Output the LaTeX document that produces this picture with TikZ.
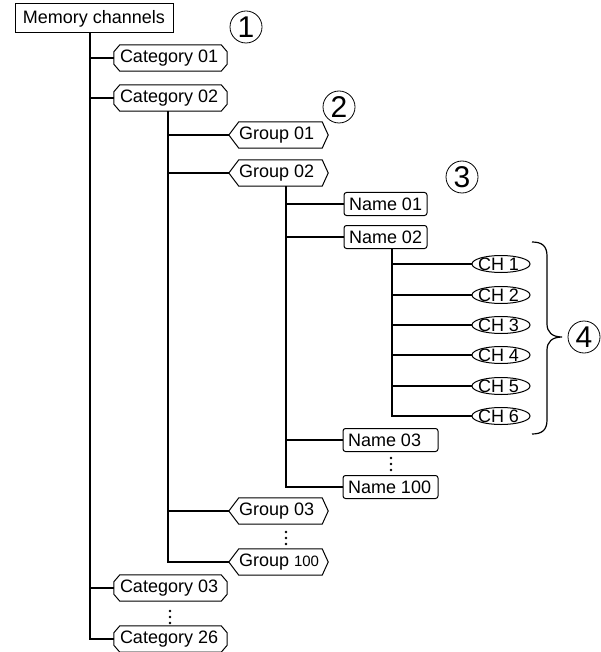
\documentclass[tikz,border=0pt]{standalone}
\usepackage{fontspec}
\setmainfont{Liberation Sans}
\usetikzlibrary{calc}
\newcommand\lbx[2]{\makebox[#1][l]{#2}}
\begin{document}
\begin{tikzpicture}[x=1pt,y=-1pt,
  every node/.style={font=\fontsize{18}{20}\selectfont, inner ysep=0pt},
  boxline/.style={line width=1pt},
  link/.style={line width=1.2pt},
  rootbox/.style={draw, boxline, minimum width=158pt, minimum height=29pt, inner xsep=0pt},
  catbox/.style={minimum height=26pt, inner xsep=6pt},
  grpbox/.style={minimum height=26pt, inner xsep=10pt},
  namebox/.style={draw, boxline, rounded corners=2.5pt, minimum height=23pt, inner xsep=5pt},
  chbox/.style={minimum height=17pt, inner xsep=6pt},
  circnum/.style={draw, circle, line width=0.8pt, minimum size=32pt, inner sep=0pt, font=\fontsize{30}{30}\selectfont},
  dotfill/.style={fill=black}
]
\useasboundingbox (0,0) rectangle (601,652);

% nodes
\node[rootbox] (root) at (94,18.5) {Memory channels};
\node[catbox] (cat01) at (170.5,58) {\lbx{101pt}{Category 01}};
\node[catbox] (cat02) at (170.5,98) {\lbx{101pt}{Category 02}};
\node[catbox] (cat03) at (170.5,588) {\lbx{101pt}{Category 03}};
\node[catbox] (cat26) at (170.5,639) {\lbx{101pt}{Category 26}};
\node[grpbox] (g01) at (278.5,135) {\lbx{79pt}{Group 01}};
\node[grpbox] (g02) at (278.5,173) {\lbx{79pt}{Group 02}};
\node[grpbox] (g03) at (278.5,511) {\lbx{79pt}{Group 03}};
\node[grpbox] (g100) at (278.5,562) {\lbx{79pt}{Group {\fontsize{15}{17}\selectfont 100}}};
\node[namebox] (n01) at (385.5,204) {\lbx{73pt}{Name 01}};
\node[namebox] (n02) at (385.5,237) {\lbx{73pt}{Name 02}};
\node[namebox] (n03) at (390.5,440) {\lbx{85pt}{Name 03}};
\node[namebox] (n100) at (390.5,487) {\lbx{85pt}{Name 100}};
\node[chbox] (ch1) at (501,264) {\lbx{46pt}{CH 1}};
\node[chbox] (ch2) at (501,295) {\lbx{46pt}{CH 2}};
\node[chbox] (ch3) at (501,325) {\lbx{46pt}{CH 3}};
\node[chbox] (ch4) at (501,355) {\lbx{46pt}{CH 4}};
\node[chbox] (ch5) at (501,386) {\lbx{46pt}{CH 5}};
\node[chbox] (ch6) at (501,416) {\lbx{46pt}{CH 6}};

% outlines of category boxes (chamfered)
\foreach \n in {cat01,cat02,cat03,cat26}{
  \draw[boxline] ([xshift=6pt]\n.north west) -- ([xshift=-6pt]\n.north east)
    -- ([yshift=-7pt]\n.north east) -- ([yshift=7pt]\n.south east)
    -- ([xshift=-6pt]\n.south east) -- ([xshift=6pt]\n.south west)
    -- ([yshift=7pt]\n.south west) -- ([yshift=-7pt]\n.north west) -- cycle;
}
% outlines of group boxes (pointed)
\foreach \n in {g01,g02,g03,g100}{
  \draw[boxline] (\n.west) -- ([xshift=10pt]\n.north west) -- ([xshift=-6pt]\n.north east)
    -- (\n.east) -- ([xshift=-6pt]\n.south east) -- ([xshift=10pt]\n.south west) -- cycle;
}
% outlines of channel ellipses
\foreach \n in {ch1,ch2,ch3,ch4,ch5,ch6}{
  \draw[boxline] (\n.center) ellipse [x radius=29pt, y radius=8.5pt];
}

% connectors
\foreach \n in {cat01,cat02,cat03,cat26}{
  \draw[link] ([xshift=-4pt]root.south) |- (\n.west);
}
\foreach \n in {g01,g02,g03,g100}{
  \draw[link] ([xshift=-2.5pt]cat02.south) |- (\n.west);
}
\foreach \n in {n01,n02,n03,n100}{
  \draw[link] ([xshift=7.5pt]g02.south) |- (\n.west);
}
\foreach \n in {ch1,ch2,ch3,ch4,ch5,ch6}{
  \draw[link] ([xshift=6.5pt]n02.south) |- (\n.west);
}

% vertical ellipses
\foreach \dy in {-6,0,6}{
  \fill[dotfill] (391,464+\dy) circle (1.4pt);
  \fill[dotfill] (286,538+\dy) circle (1.4pt);
  \fill[dotfill] (170,617+\dy) circle (1.4pt);
}

% brace
\draw[link] (532,242) .. controls (542,242) and (547,246) .. (547,256) -- (547,324)
  .. controls (547,332) and (552,337) .. (562,337)
  .. controls (552,337) and (547,342) .. (547,350) -- (547,420)
  .. controls (547,430) and (542,434) .. (532,434);

% circled numbers
\node[circnum] (c1) at (246,27) {1};
\node[circnum] (c2) at (339,107) {2};
\node[circnum] (c3) at (462,177) {3};
\node[circnum] (c4) at (584,337) {4};
\end{tikzpicture}
\end{document}
